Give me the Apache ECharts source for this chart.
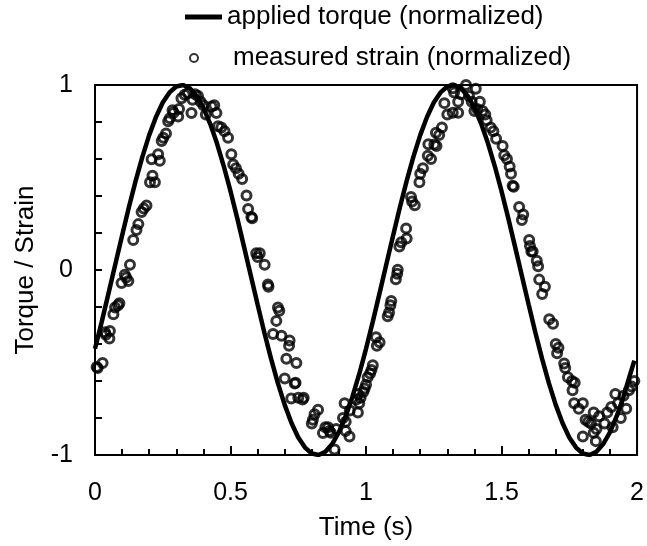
<!DOCTYPE html>
<html><head><meta charset="utf-8">
<script src="https://cdn.jsdelivr.net/npm/echarts@6/dist/echarts.min.js"></script>
<style>html,body{margin:0;padding:0;background:#fff}#c{width:647px;height:546px}</style>
</head><body><div id="c"></div>
<script>
const seriesNames = ['applied torque (normalized)', 'measured strain (normalized)'];
const xTickLabels = ['0', '0.5', '1', '1.5', '2'];
const yTickLabels = ['-1', '0', '1'];
const torqueTime = [0,0.025,0.05,0.075,0.1,0.125,0.15,0.175,0.2,0.225,0.25,0.275,0.3,0.325,0.35,0.375,0.4,0.425,0.45,0.475,0.5,0.525,0.55,0.575,0.6,0.625,0.65,0.675,0.7,0.725,0.75,0.775,0.8,0.825,0.85,0.875,0.9,0.925,0.95,0.975,1.0,1.025,1.05,1.075,1.1,1.125,1.15,1.175,1.2,1.225,1.25,1.275,1.3,1.325,1.35,1.375,1.4,1.425,1.45,1.475,1.5,1.525,1.55,1.575,1.6,1.625,1.65,1.675,1.7,1.725,1.75,1.775,1.8,1.825,1.85,1.875,1.9,1.925,1.95,1.975,1.99];
const torqueValue = [-0.426,-0.279,-0.125,0.031,0.187,0.339,0.482,0.613,0.729,0.827,0.905,0.960,0.992,1.0,0.982,0.941,0.877,0.790,0.685,0.562,0.426,0.279,0.125,-0.031,-0.187,-0.339,-0.482,-0.613,-0.729,-0.827,-0.905,-0.960,-0.992,-1.0,-0.982,-0.941,-0.877,-0.790,-0.685,-0.562,-0.426,-0.279,-0.125,0.031,0.187,0.339,0.482,0.613,0.729,0.827,0.905,0.960,0.992,1.0,0.982,0.941,0.877,0.790,0.685,0.562,0.426,0.279,0.125,-0.031,-0.187,-0.339,-0.482,-0.613,-0.729,-0.827,-0.905,-0.960,-0.992,-1.0,-0.982,-0.941,-0.877,-0.790,-0.685,-0.562,-0.49];
const strainTime = [0.006,0.01,0.028,0.037,0.04,0.053,0.055,0.068,0.074,0.085,0.09,0.098,0.11,0.115,0.123,0.129,0.141,0.153,0.16,0.172,0.18,0.19,0.203,0.212,0.221,0.209,0.233,0.239,0.246,0.252,0.262,0.27,0.276,0.286,0.29,0.307,0.31,0.319,0.331,0.343,0.356,0.36,0.37,0.38,0.39,0.4,0.409,0.43,0.44,0.448,0.454,0.466,0.478,0.491,0.503,0.51,0.52,0.53,0.543,0.559,0.565,0.577,0.58,0.595,0.6,0.608,0.626,0.638,0.64,0.657,0.669,0.675,0.68,0.688,0.7,0.706,0.716,0.718,0.724,0.737,0.74,0.743,0.75,0.766,0.77,0.8,0.804,0.81,0.823,0.841,0.85,0.86,0.865,0.87,0.884,0.89,0.915,0.921,0.925,0.925,0.939,0.94,0.964,0.97,0.97,0.975,0.98,0.99,0.995,1.0,1.006,1.015,1.02,1.025,1.037,1.04,1.05,1.08,1.085,1.09,1.093,1.11,1.115,1.117,1.123,1.13,1.148,1.15,1.166,1.17,1.18,1.197,1.2,1.21,1.228,1.23,1.24,1.252,1.258,1.26,1.27,1.28,1.289,1.3,1.32,1.32,1.325,1.34,1.34,1.35,1.369,1.38,1.39,1.4,1.405,1.41,1.42,1.43,1.44,1.445,1.46,1.47,1.48,1.504,1.51,1.52,1.53,1.535,1.541,1.545,1.565,1.575,1.58,1.602,1.605,1.61,1.615,1.63,1.635,1.639,1.65,1.66,1.676,1.69,1.7,1.705,1.71,1.731,1.735,1.745,1.76,1.762,1.768,1.77,1.785,1.8,1.8,1.81,1.82,1.83,1.84,1.84,1.848,1.85,1.86,1.88,1.89,1.905,1.91,1.92,1.93,1.94,1.95,1.96,1.97,1.98,1.99];
const strainValue = [-0.524,-0.53,-0.503,-0.337,-0.35,-0.37,-0.33,-0.239,-0.203,-0.19,-0.18,-0.07,-0.025,-0.04,-0.06,0.028,0.162,0.216,0.248,0.314,0.332,0.349,0.474,0.51,0.474,0.599,0.626,0.59,0.697,0.715,0.738,0.804,0.82,0.863,0.85,0.83,0.87,0.929,0.947,0.956,0.849,0.92,0.95,0.94,0.91,0.89,0.84,0.884,0.89,0.849,0.777,0.77,0.75,0.715,0.626,0.57,0.55,0.52,0.492,0.403,0.33,0.287,0.28,0.09,0.07,0.09,0.028,-0.078,-0.09,-0.346,-0.275,-0.203,-0.22,-0.355,-0.587,-0.48,-0.41,-0.381,-0.694,-0.613,-0.61,-0.503,-0.69,-0.7,-0.69,-0.83,-0.81,-0.78,-0.756,-0.881,-0.85,-0.85,-0.87,-0.88,-0.97,-0.86,-0.8,-0.72,-0.82,-0.87,-0.9,-0.76,-0.7,-0.67,-0.77,-0.72,-0.69,-0.66,-0.64,-0.62,-0.58,-0.56,-0.54,-0.515,-0.364,-0.41,-0.39,-0.25,-0.23,-0.19,-0.167,-0.05,-0.02,0.002,0.127,0.15,0.225,0.17,0.394,0.37,0.35,0.474,0.52,0.55,0.617,0.68,0.6,0.679,0.742,0.67,0.73,0.77,0.902,0.84,0.85,0.982,0.96,0.85,0.91,0.95,1.0,0.94,0.91,0.86,0.98,0.87,0.91,0.86,0.84,0.81,0.77,0.75,0.71,0.67,0.62,0.6,0.56,0.52,0.456,0.45,0.34,0.27,0.3,0.162,0.13,0.1,0.1,0.05,0.02,-0.052,-0.13,-0.09,-0.266,-0.29,-0.4,-0.45,-0.42,-0.506,-0.53,-0.58,-0.6,-0.65,-0.72,-0.61,-0.75,-0.72,-0.9,-0.81,-0.82,-0.83,-0.77,-0.88,-0.925,-0.86,-0.79,-0.83,-0.77,-0.74,-0.85,-0.67,-0.72,-0.8,-0.68,-0.75,-0.65,-0.63,-0.6];

const FONT = '"Liberation Sans", Arial, Helvetica, sans-serif';
const chart = echarts.init(document.getElementById('c'), null, {renderer: 'canvas'});
const torqueData = torqueTime.map((t, i) => [t, torqueValue[i]]);
const strainData = strainTime.map((t, i) => [t, strainValue[i]]);
chart.setOption({
  animation: false,
  backgroundColor: '#fff',
  textStyle: {fontFamily: FONT, color: '#000'},
  legend: [
    {data: [{name: seriesNames[0], icon: 'rect', itemStyle: {color: '#000'}}], left: 185, top: 4, padding: 0, itemWidth: 37, itemHeight: 5, itemGap: 0,
     textStyle: {fontFamily: FONT, fontSize: 26, color: '#000'}},
    {data: [seriesNames[1]], left: 189, top: 45, padding: 0, itemWidth: 8, itemHeight: 8,
     textStyle: {fontFamily: FONT, fontSize: 26, color: '#000', padding: [0, 0, 0, 30]}}
  ],
  grid: {left: 95, right: 9, top: 85, bottom: 87, show: true, borderColor: '#000', borderWidth: 2, containLabel: false},
  xAxis: {
    type: 'value', min: 0, max: 2, interval: 0.5,
    name: 'Time (s)', nameLocation: 'middle', nameGap: 60,
    nameTextStyle: {fontFamily: FONT, fontSize: 26, color: '#000'},
    axisLine: {onZero: false, lineStyle: {color: '#000', width: 2}},
    axisTick: {inside: true, length: 9, lineStyle: {color: '#000', width: 2}},
    minorTick: {show: true, splitNumber: 5, length: 6, lineStyle: {color: '#000', width: 2}},
    splitLine: {show: false},
    axisLabel: {fontFamily: FONT, fontSize: 25, color: '#000', margin: 26,
      formatter: v => xTickLabels[Math.round(v / 0.5)]}
  },
  yAxis: {
    type: 'value', min: -1, max: 1, interval: 1,
    name: 'Torque / Strain', nameLocation: 'middle', nameGap: 56,
    nameTextStyle: {fontFamily: FONT, fontSize: 26, color: '#000'},
    axisLine: {onZero: false, lineStyle: {color: '#000', width: 2}},
    axisTick: {inside: true, length: 7, lineStyle: {color: '#000', width: 2}},
    minorTick: {show: true, splitNumber: 5, length: 7, lineStyle: {color: '#000', width: 2}},
    splitLine: {show: false},
    axisLabel: {fontFamily: FONT, fontSize: 25, color: '#000', margin: 22,
      formatter: v => yTickLabels[Math.round(v) + 1]}
  },
  series: [
    {name: seriesNames[0], type: 'line', data: torqueData, showSymbol: false, symbol: 'none',
     lineStyle: {color: '#000', width: 4.5}, itemStyle: {color: '#000'}, z: 2},
    {name: seriesNames[1], type: 'scatter', data: strainData, symbol: 'circle', symbolSize: 9,
     itemStyle: {color: 'rgba(255,255,255,0)', borderColor: '#000', borderWidth: 3}, z: 3}
  ]
});
</script></body></html>
